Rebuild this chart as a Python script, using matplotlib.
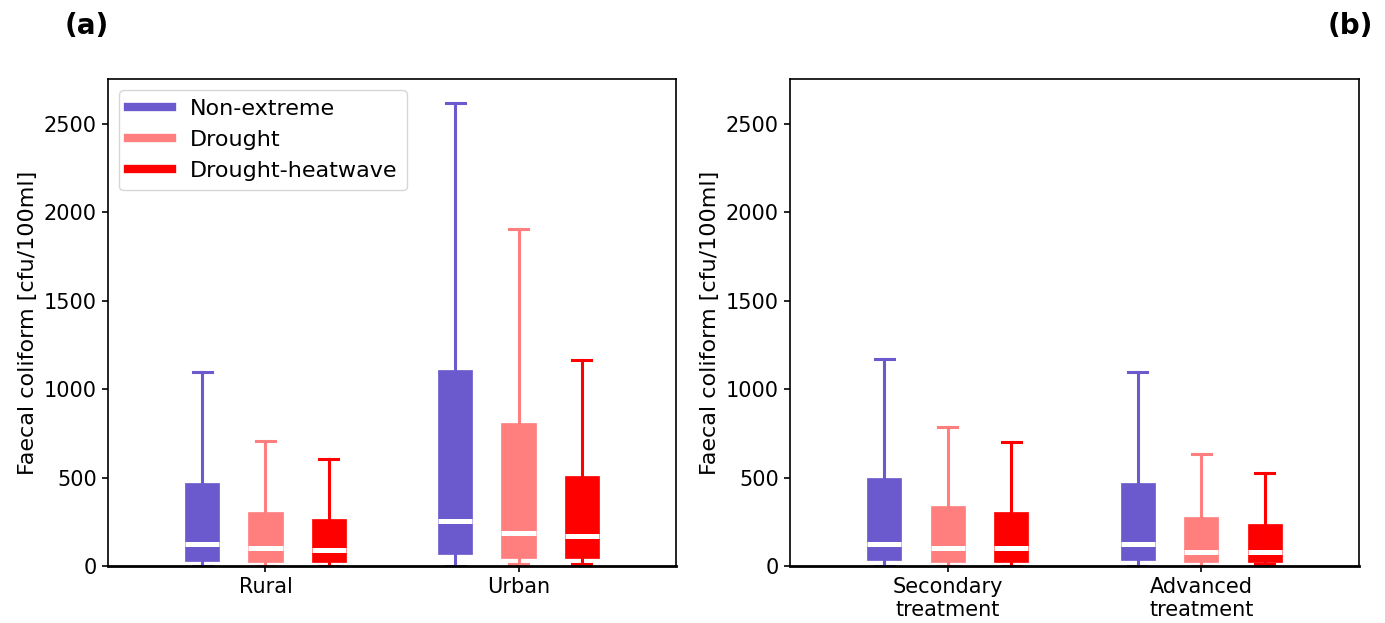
import matplotlib
matplotlib.use("Agg")
import matplotlib.pyplot as plt
from matplotlib.lines import Line2D

conditions = ["Non-extreme", "Drought", "Drought-heatwave"]
colors = ["#6A5ACD", "#FF7F7F", "#FF0000"]

groups_a = ["Rural", "Urban"]
groups_b = ["Secondary\ntreatment", "Advanced\ntreatment"]

# per group: [Non-extreme, Drought, Drought-heatwave]
whislo_a = [[0, 0, 0], [0, 10, 10]]
q1_a = [[30, 21, 23], [66, 43, 43]]
med_a = [[127, 99, 93], [257, 189, 167]]
q3_a = [[468, 307, 268], [1110, 809, 507]]
whishi_a = [[1095, 707, 603], [2617, 1904, 1163]]

whislo_b = [[0, 0, 0], [0, 0, 10]]
q1_b = [[32, 24, 24], [34, 21, 24]]
med_b = [[127, 99, 99], [127, 82, 82]]
q3_b = [[500, 339, 307], [468, 279, 238]]
whishi_b = [[1169, 784, 700], [1095, 632, 524]]

fig = plt.figure(figsize=(13.85, 6.23), dpi=100)
ax1 = fig.add_axes([108/1385, 1-566/623, (676-108)/1385, (566-79)/623])
ax2 = fig.add_axes([790/1385, 1-566/623, (1359-790)/1385, (566-79)/623])

offsets = [-0.25, 0.0, 0.25]
width = 0.135


def draw(ax, groups, wlo, q1, med, q3, whi):
    for gi in range(len(groups)):
        for ci in range(len(conditions)):
            st = dict(med=med[gi][ci], q1=q1[gi][ci], q3=q3[gi][ci],
                      whislo=wlo[gi][ci], whishi=whi[gi][ci], fliers=[])
            c = colors[ci]
            ax.bxp([st], positions=[gi + 1 + offsets[ci]], widths=width,
                   capwidths=0.075,
                   patch_artist=True, showfliers=False,
                   boxprops=dict(facecolor=c, edgecolor=c, linewidth=0.5),
                   whiskerprops=dict(color=c, linewidth=2.2),
                   capprops=dict(color=c, linewidth=2.2),
                   medianprops=dict(color="white", linewidth=3.6))
    ax.set_xticks([1, 2])
    ax.set_xticklabels(groups, fontsize=15)
    ax.set_xlim(0.378, 2.622)
    ax.set_ylim(0, 2755)
    ax.set_yticks([0, 500, 1000, 1500, 2000, 2500])
    ax.tick_params(axis="both", labelsize=15, length=4.5, width=1.2)
    ax.set_ylabel("Faecal coliform [cfu/100ml]", fontsize=16)
    for s in ax.spines.values():
        s.set_linewidth(1.2)
    ax.spines["bottom"].set_linewidth(2)


draw(ax1, groups_a, whislo_a, q1_a, med_a, q3_a, whishi_a)
draw(ax2, groups_b, whislo_b, q1_b, med_b, q3_b, whishi_b)

handles = [Line2D([0], [0], color=c, lw=6) for c in colors]
ax1.legend(handles, conditions, loc="upper left", fontsize=16)

fig.text(87/1385, 1-26/623, "(a)", fontsize=20, fontweight="bold",
         ha="center", va="center")
fig.text(1350/1385, 1-26/623, "(b)", fontsize=20, fontweight="bold",
         ha="center", va="center")

fig.savefig("out.png", dpi=100)
